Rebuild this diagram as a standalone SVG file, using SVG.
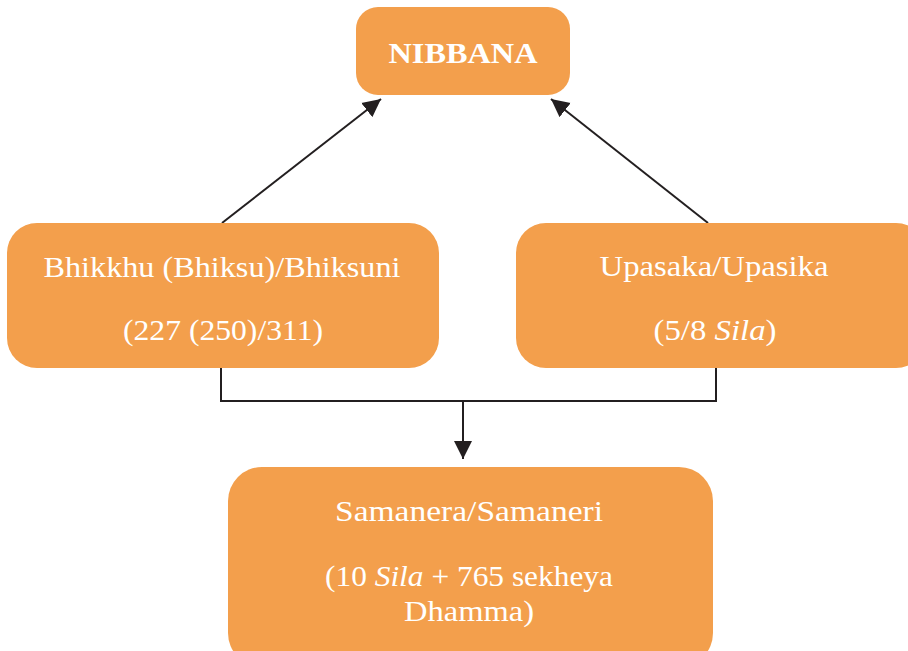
<svg xmlns="http://www.w3.org/2000/svg" width="908" height="651" viewBox="0 0 908 651">
<defs>
<style>
.box{fill:#F39F4C}
.t{font-family:"Liberation Serif","DejaVu Serif",serif;fill:#FFFFFF;font-size:29px;text-anchor:middle}
.b{font-weight:bold}
.i{font-style:italic}
.c{stroke:#231F20;stroke-width:2;fill:none}
</style>
<marker id="ahd" viewBox="0 0 10 10" refX="10" refY="5" markerWidth="18" markerHeight="19" markerUnits="userSpaceOnUse" orient="auto">
<path d="M0,0 L10,5 L0,10 z" fill="#231F20"/>
</marker>
</defs>
<rect width="908" height="651" fill="#FFFFFF"/>
<g id="connectors">
<path class="c" d="M222,223 L381,99" marker-end="url(#ahd)"/>
<path class="c" d="M708,223 L551,99" marker-end="url(#ahd)"/>
<path class="c" d="M221,368 V401 H716 V368"/>
<path class="c" d="M463,401 V459" marker-end="url(#ahd)"/>
</g>
<g id="nibbana">
<rect class="box" x="356" y="7" width="214" height="88" rx="22"/>
<text class="t b" x="463" y="63" font-size="30" textLength="149" lengthAdjust="spacingAndGlyphs">NIBBANA</text>
</g>
<g id="bhikkhu">
<rect class="box" x="7" y="223" width="432" height="145" rx="30"/>
<text class="t" x="222" y="277" textLength="357" lengthAdjust="spacingAndGlyphs">Bhikkhu (Bhiksu)/Bhiksuni</text>
<text class="t" x="223" y="340" textLength="200" lengthAdjust="spacingAndGlyphs">(227 (250)/311)</text>
</g>
<g id="upasaka">
<rect class="box" x="516" y="223" width="410" height="145" rx="30"/>
<text class="t" x="714" y="276" textLength="229" lengthAdjust="spacingAndGlyphs">Upasaka/Upasika</text>
<text class="t" x="715" y="340" textLength="123" lengthAdjust="spacingAndGlyphs">(5/8 <tspan class="i">Sila</tspan>)</text>
</g>
<g id="samanera">
<rect class="box" x="228" y="467" width="485" height="200" rx="34"/>
<text class="t" x="469" y="521" textLength="268" lengthAdjust="spacingAndGlyphs">Samanera/Samaneri</text>
<text class="t" x="469" y="586" textLength="288" lengthAdjust="spacingAndGlyphs">(10 <tspan class="i">Sila</tspan> + 765 sekheya</text>
<text class="t" x="469" y="621" textLength="130" lengthAdjust="spacingAndGlyphs">Dhamma)</text>
</g>
</svg>
